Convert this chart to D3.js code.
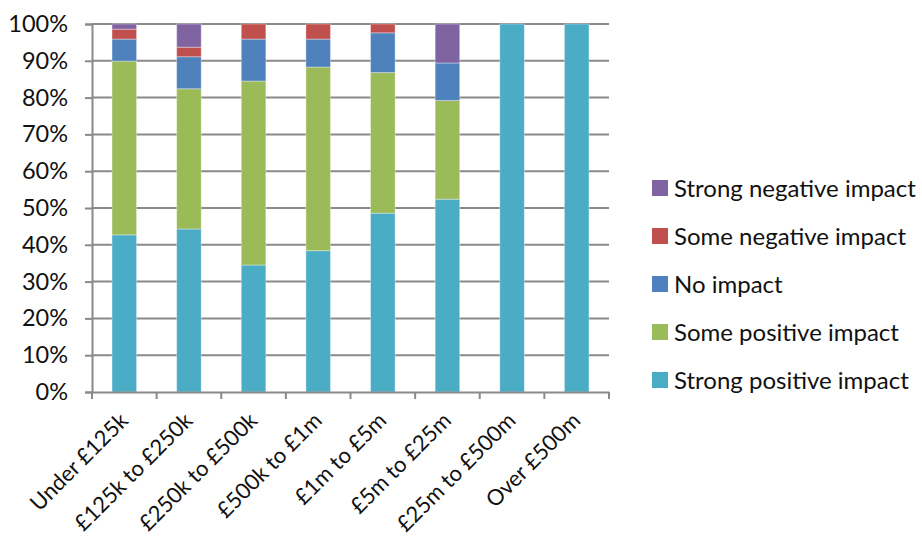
<!DOCTYPE html>
<html>
<head>
<meta charset="utf-8">
<script src="https://cdn.jsdelivr.net/npm/d3@7"></script>
<style>
  html, body { margin: 0; padding: 0; background: #fff; }
  svg text { font-family: Lato, "Open Sans", sans-serif; fill: #111; }
</style>
</head>
<body>
<svg id="chart" width="922" height="545"></svg>
<script>
// Turnover bands
const categories = ["Under £125k", "£125k to £250k", "£250k to £500k", "£500k to £1m",
                    "£1m to £5m", "£5m to £25m", "£25m to £500m", "Over £500m"];

// Share of responses (%) per band, bottom to top of each stack
const strongPositive = [42.7, 44.3, 34.5, 38.4, 48.6, 52.4, 100, 100];
const somePositive   = [47.2, 38.1, 50.0, 49.9, 38.2, 26.8, 0, 0];
const noImpact       = [6.0, 8.7, 11.4, 7.6, 10.8, 10.2, 0, 0];
const someNegative   = [2.7, 2.6, 4.1, 4.1, 2.4, 0, 0, 0];
const strongNegative = [1.4, 6.3, 0, 0, 0, 10.6, 0, 0];

const seriesNames  = ["Strong positive impact", "Some positive impact", "No impact",
                      "Some negative impact", "Strong negative impact"];
const seriesColors = ["#4BACC6", "#9BBB59", "#4F81BD", "#C0504D", "#8064A2"];
const yTicks = [0, 10, 20, 30, 40, 50, 60, 70, 80, 90, 100];

const seriesValues = [strongPositive, somePositive, noImpact, someNegative, strongNegative];
const rows = categories.map((c, i) => {
  const r = { category: c };
  seriesNames.forEach((s, k) => { r[s] = seriesValues[k][i]; });
  return r;
});

const svg = d3.select("#chart");
const plot = { left: 92, right: 609, top: 24, bottom: 392 };

const x = d3.scaleBand().domain(categories).range([plot.left, plot.right]).paddingInner(0.62).paddingOuter(0.31);
const xTick = d3.scaleBand().domain(categories).range([plot.left, plot.right]);
const y = d3.scaleLinear().domain([0, 100]).range([plot.bottom, plot.top]);

// Horizontal gridlines
svg.append("g").selectAll("line").data(yTicks.filter(t => t > 0)).join("line")
  .attr("x1", plot.left).attr("x2", plot.right)
  .attr("y1", d => y(d)).attr("y2", d => y(d))
  .attr("stroke", "#8a8a8a").attr("stroke-width", 2);

// Stacked bars
const stack = d3.stack().keys(seriesNames)(rows);
svg.append("g").selectAll("g").data(stack).join("g")
  .attr("fill", (d, i) => seriesColors[i])
  .selectAll("rect").data(d => d).join("rect")
  .attr("x", d => x(d.data.category))
  .attr("width", x.bandwidth())
  .attr("y", d => y(d[1]))
  .attr("height", d => y(d[0]) - y(d[1]))
  .attr("stroke", "rgba(255,255,255,0.35)").attr("stroke-width", 1);

// Y axis
const yAxis = svg.append("g").attr("transform", `translate(${plot.left},0)`)
  .call(d3.axisLeft(y).tickValues(yTicks).tickFormat(d => d + "%").tickSize(7).tickPadding(17));
yAxis.select(".domain").attr("stroke", "#8a8a8a").attr("stroke-width", 2);
yAxis.selectAll(".tick line").attr("stroke", "#8a8a8a").attr("stroke-width", 2);
yAxis.selectAll(".tick text").attr("font-size", 23.5).attr("font-family", "Lato, sans-serif").attr("fill", "#111");

// X axis
const xAxis = svg.append("g").attr("transform", `translate(0,${plot.bottom})`)
  .call(d3.axisBottom(xTick).tickSize(0).tickFormat(""));
xAxis.select(".domain").attr("stroke", "#8a8a8a").attr("stroke-width", 2);
// category boundary ticks
svg.append("g").selectAll("line").data(d3.range(categories.length + 1)).join("line")
  .attr("x1", i => plot.left + i * xTick.step()).attr("x2", i => plot.left + i * xTick.step())
  .attr("y1", plot.bottom).attr("y2", plot.bottom + 7)
  .attr("stroke", "#8a8a8a").attr("stroke-width", 2);

// Rotated category labels
svg.append("g").selectAll("text").data(categories).join("text")
  .attr("transform", d => `translate(${x(d) + x.bandwidth() / 2 + 5},${plot.bottom + 30}) rotate(-45)`)
  .attr("text-anchor", "end")
  .attr("font-size", 22)
  .text(d => d);

// Legend, top entry is the last series
const legendItems = seriesNames.map((s, i) => ({ name: s, color: seriesColors[i] })).reverse();
const legend = svg.append("g").selectAll("g").data(legendItems).join("g")
  .attr("transform", (d, i) => `translate(652,${188 + i * 48})`);
legend.append("rect").attr("x", 0).attr("y", -8).attr("width", 16).attr("height", 16)
  .attr("fill", d => d.color);
legend.append("text").attr("x", 22).attr("y", 0).attr("dy", "0.36em")
  .attr("font-size", 24).text(d => d.name);
</script>
</body>
</html>
